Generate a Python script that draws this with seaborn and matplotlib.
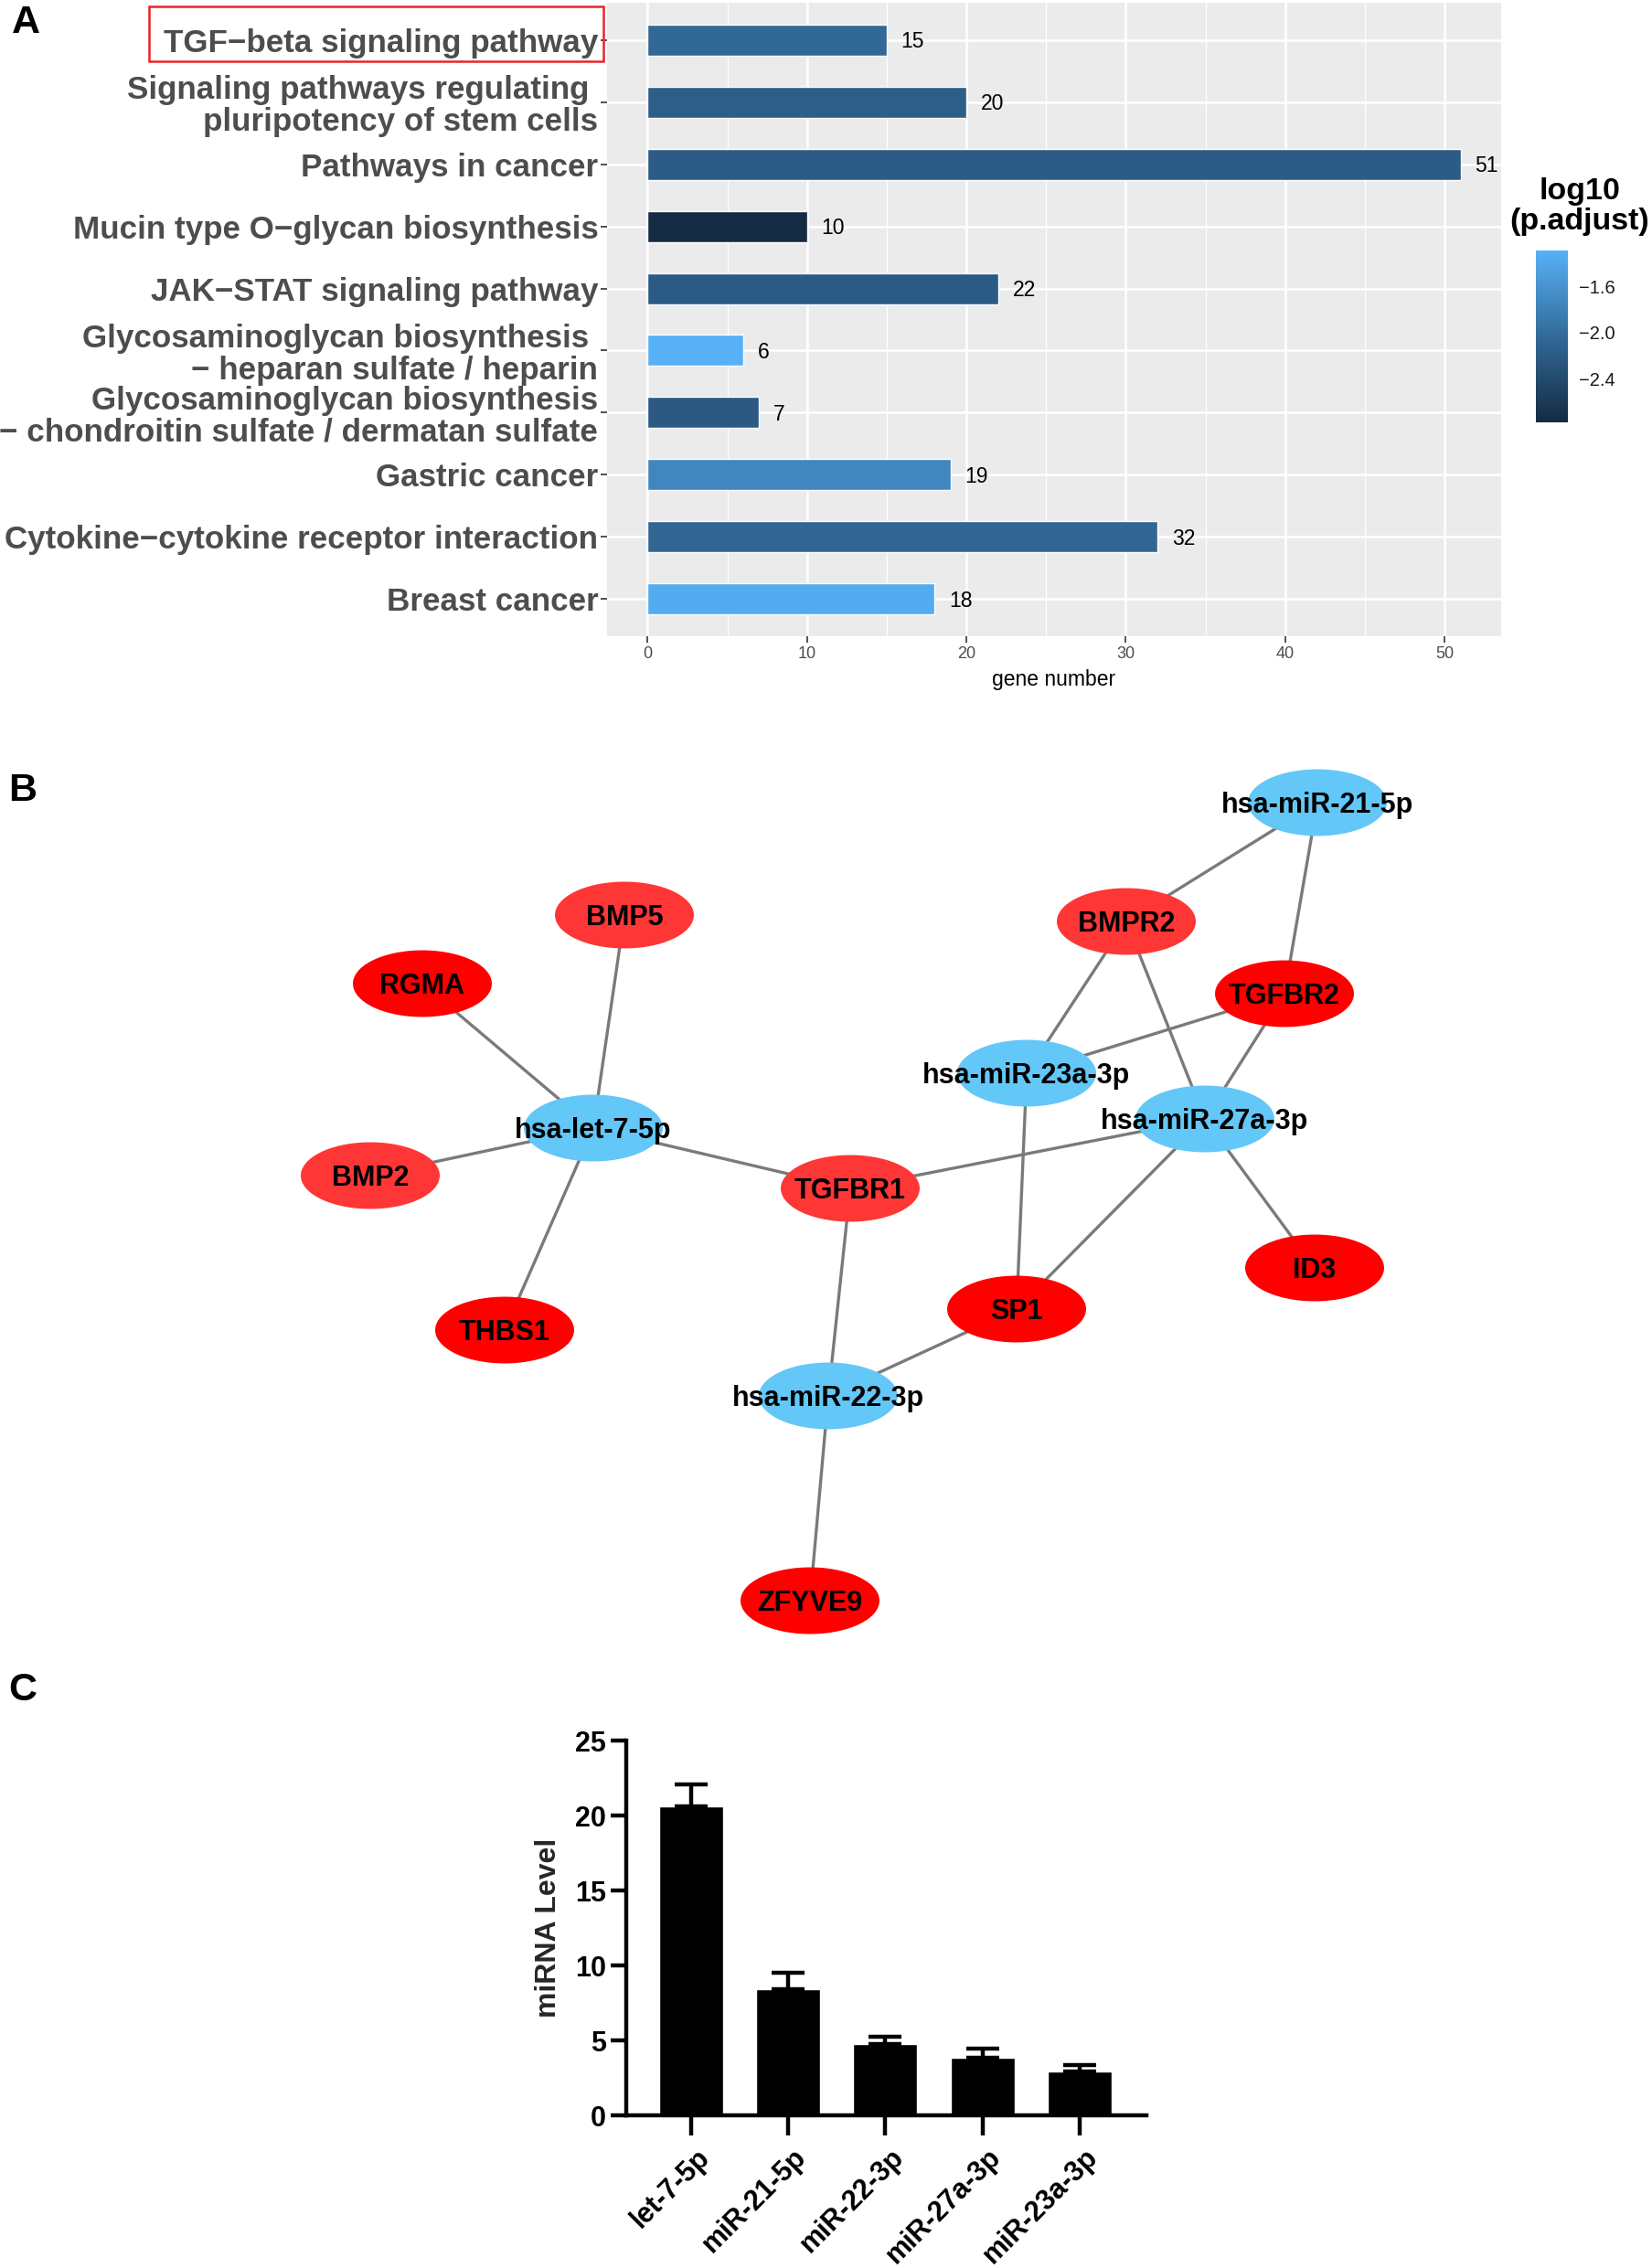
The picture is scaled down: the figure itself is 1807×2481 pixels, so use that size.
import numpy as np
import pandas as pd
import matplotlib
matplotlib.use("Agg")
import matplotlib.pyplot as plt
import matplotlib.cm as cm
import matplotlib.transforms as mtransforms
import seaborn as sns
from matplotlib.colors import LinearSegmentedColormap, Normalize
from matplotlib.patches import Rectangle
from matplotlib.path import Path

# ---------------- Panel A data ----------------
kegg_terms = [
    "TGF\u2212beta signaling pathway",
    "Signaling pathways regulating \npluripotency of stem cells",
    "Pathways in cancer",
    "Mucin type O\u2212glycan biosynthesis",
    "JAK\u2212STAT signaling pathway",
    "Glycosaminoglycan biosynthesis \n\u2212 heparan sulfate / heparin",
    "Glycosaminoglycan biosynthesis\n\u2212 chondroitin sulfate / dermatan sulfate",
    "Gastric cancer",
    "Cytokine\u2212cytokine receptor interaction",
    "Breast cancer",
]
gene_counts = [15, 20, 51, 10, 22, 6, 7, 19, 32, 18]
log10_padj = [-2.06, -2.18, -2.20, -2.78, -2.21, -1.29, -2.23, -1.74, -2.08, -1.35]
x_ticks_a = [0, 10, 20, 30, 40, 50]
x_minor_a = [5, 15, 25, 35, 45]
cbar_ticks = [-2.4, -2.0, -1.6]

# ---------------- Panel B data ----------------
node_names = ["hsa-miR-21-5p", "BMP5", "BMPR2", "RGMA", "TGFBR2", "hsa-miR-23a-3p",
              "hsa-miR-27a-3p", "hsa-let-7-5p", "BMP2", "TGFBR1", "ID3", "SP1",
              "THBS1", "hsa-miR-22-3p", "ZFYVE9"]
node_x = [1441, 683, 1232, 462, 1405, 1123, 1318, 649, 405, 930, 1438, 1112, 552, 906, 886]
node_y = [878, 1001, 1008, 1076, 1087, 1174, 1224, 1234, 1286, 1300, 1387, 1432, 1455, 1527, 1751]
node_kind = ["miRNA", "gene_light", "gene_light", "gene", "gene", "miRNA",
             "miRNA", "miRNA", "gene_light", "gene_light", "gene", "gene",
             "gene", "miRNA", "gene"]
edges = [
    ("hsa-miR-21-5p", "BMPR2"), ("hsa-miR-21-5p", "TGFBR2"),
    ("BMPR2", "hsa-miR-23a-3p"), ("BMPR2", "hsa-miR-27a-3p"),
    ("TGFBR2", "hsa-miR-23a-3p"), ("TGFBR2", "hsa-miR-27a-3p"),
    ("hsa-miR-23a-3p", "SP1"), ("hsa-miR-27a-3p", "TGFBR1"),
    ("hsa-miR-27a-3p", "SP1"), ("hsa-miR-27a-3p", "ID3"),
    ("hsa-let-7-5p", "BMP5"), ("hsa-let-7-5p", "RGMA"),
    ("hsa-let-7-5p", "BMP2"), ("hsa-let-7-5p", "THBS1"),
    ("hsa-let-7-5p", "TGFBR1"), ("TGFBR1", "hsa-miR-22-3p"),
    ("SP1", "hsa-miR-22-3p"), ("hsa-miR-22-3p", "ZFYVE9"),
]

# ---------------- Panel C data ----------------
mirnas_c = ["let-7-5p", "miR-21-5p", "miR-22-3p", "miR-27a-3p", "miR-23a-3p"]
mirna_level = [20.63, 8.43, 4.77, 3.87, 2.92]
mirna_sem = [1.45, 1.11, 0.48, 0.58, 0.42]
y_ticks_c = [0, 5, 10, 15, 20, 25]

# ---------------- figure ----------------
sns.set_theme(style="white")
plt.rcParams["font.family"] = ["Liberation Sans", "DejaVu Sans"]
plt.rcParams["axes.unicode_minus"] = True

W, H = 1807, 2481
fig = plt.figure(figsize=(W / 100, H / 100), dpi=100)
fig.patch.set_facecolor("white")


def fa(x0, y0, x1, y1):
    """pixel box (top-left origin) -> figure fraction rect"""
    return [x0 / W, 1 - y1 / H, (x1 - x0) / W, (y1 - y0) / H]


# ======== Panel A ========
ax_a = fig.add_axes(fa(664, 3, 1642, 696))
df_a = pd.DataFrame({"term": kegg_terms, "count": gene_counts, "logp": log10_padj})
cmap = LinearSegmentedColormap.from_list("gg", ["#132B43", "#336A98", "#56B1F7"])
norm = Normalize(vmin=min(log10_padj), vmax=max(log10_padj))
palette = {t: cmap(norm(v)) for t, v in zip(kegg_terms, log10_padj)}
sns.barplot(data=df_a, x="count", y="term", hue="term", palette=palette,
            width=0.5, saturation=1, legend=False, ax=ax_a, zorder=3)
ax_a.set_facecolor("#EBEBEB")
ax_a.set_xlim(-2.55, 53.55)
ax_a.set_ylim(len(kegg_terms) - 0.4, -0.6)
ax_a.set_xticks(x_ticks_a)
ax_a.set_xticks(x_minor_a, minor=True)
ax_a.set_axisbelow(True)
ax_a.grid(which="major", color="white", lw=1.8)
ax_a.grid(which="minor", axis="x", color="white", lw=0.9)
for s in ax_a.spines.values():
    s.set_visible(False)
ax_a.tick_params(axis="y", length=5, width=1.2, color="#333333", pad=2,
                 labelsize=25.2, labelcolor="#4D4D4D", left=True)
ax_a.tick_params(axis="x", which="major", length=5, width=1.2, color="#333333",
                 pad=3, labelsize=13, labelcolor="#4D4D4D", bottom=True)
ax_a.tick_params(axis="x", which="minor", length=0)
for lab in ax_a.get_yticklabels():
    lab.set_fontweight("bold")
    lab.set_linespacing(1.08)
ax_a.set_ylabel("")
ax_a.set_xlabel("gene number", fontsize=16.5, color="black", labelpad=6)
for i, v in enumerate(gene_counts):
    ax_a.text(v + 0.9, i + 0.03, str(v), ha="left", va="center", fontsize=16.5,
              color="black", zorder=4)

# colorbar
cax = fig.add_axes(fa(1680, 274, 1715, 462))
cb = fig.colorbar(cm.ScalarMappable(norm=norm, cmap=cmap), cax=cax, ticks=cbar_ticks)
cb.outline.set_visible(False)
cax.tick_params(which="both", direction="in", color="white", length=7, width=1,
                left=True, right=True, labelsize=14.5, labelcolor="#1A1A1A", pad=9)
cax.set_yticklabels([f"{t:.1f}".replace("-", "\u2212") for t in cbar_ticks])
fig.text(1728 / W, 1 - 226 / H, "log10\n(p.adjust)", ha="center", va="center",
         fontsize=24.5, fontweight="bold", color="black", linespacing=1.05)

# ======== Panel B ========
ax_b = fig.add_axes(fa(0, 830, W, 1790))
ax_b.set_xlim(0, W)
ax_b.set_ylim(1790, 830)
ax_b.axis("off")
pos = {n: (x, y) for n, x, y in zip(node_names, node_x, node_y)}
for a, b in edges:
    ax_b.plot([pos[a][0], pos[b][0]], [pos[a][1], pos[b][1]], color="#7A7A7A",
              lw=2.4, zorder=1, solid_capstyle="butt")
t = np.linspace(0, 2 * np.pi, 100)
ell = Path(np.column_stack([np.cos(t), 0.48 * np.sin(t)]), closed=True)
df_b = pd.DataFrame({"x": node_x, "y": node_y, "kind": node_kind})
sns.scatterplot(data=df_b, x="x", y="y", hue="kind",
                palette={"miRNA": "#63C7F8", "gene": "#FF0000", "gene_light": "#FF3636"},
                marker=ell, s=(152 * 0.72) ** 2, linewidth=0, legend=False,
                ax=ax_b, zorder=2)
ax_b.set_xlabel("")
ax_b.set_ylabel("")
for n, x, y in zip(node_names, node_x, node_y):
    ax_b.text(x, y + 11, n, ha="center", va="baseline", fontsize=22,
              fontweight="bold", color="black", zorder=3)

# ======== Panel C ========
ax_c = fig.add_axes(fa(685, 1904, 1254, 2314))
sns.barplot(x=mirnas_c, y=mirna_level, color="black", width=0.66, saturation=1,
            errorbar=None, ax=ax_c)
ax_c.errorbar(range(len(mirnas_c)), mirna_level,
              yerr=[np.zeros(len(mirna_sem)), mirna_sem], fmt="none",
              ecolor="black", elinewidth=3.2, capsize=13, capthick=3.2)
ax_c.set_xlim(-0.67, 4.69)
ax_c.set_ylim(0, 25)
ax_c.set_yticks(y_ticks_c)
for side in ["top", "right"]:
    ax_c.spines[side].set_visible(False)
for side in ["left", "bottom"]:
    ax_c.spines[side].set_linewidth(3.2)
    ax_c.spines[side].set_color("black")
ax_c.tick_params(axis="y", width=3.2, length=12, color="black", labelsize=22,
                 labelcolor="black", left=True, pad=4)
ax_c.tick_params(axis="x", width=3.2, length=16, color="black", labelsize=22,
                 labelcolor="black", bottom=True, pad=6)
for lab in ax_c.get_yticklabels():
    lab.set_fontweight("bold")
shift = mtransforms.ScaledTranslation(5 / 100, 0, fig.dpi_scale_trans)
for lab in ax_c.get_xticklabels():
    lab.set_fontweight("bold")
    lab.set_rotation(45)
    lab.set_ha("right")
    lab.set_rotation_mode("anchor")
    lab.set_transform(lab.get_transform() + shift)
ax_c.set_ylabel("miRNA Level", fontsize=23, fontweight="bold", labelpad=10)
ax_c.set_facecolor("white")

# ======== panel letters ========
for letter, (px, py) in zip(["A", "B", "C"], [(28, 25), (25, 865), (25, 1849)]):
    fig.text(px / W, 1 - py / H, letter, ha="center", va="center",
             fontsize=31, fontweight="bold", color="black")

# red box around highlighted term
fig.canvas.draw()
renderer = fig.canvas.get_renderer()
bb = ax_a.get_yticklabels()[0].get_window_extent(renderer)
x0, x1 = bb.x0 - 16, bb.x1 + 6
y0, y1 = bb.y0 - 3, bb.y1 + 24
fig.add_artist(Rectangle((x0 / W, y0 / H), (x1 - x0) / W, (y1 - y0) / H,
                         transform=fig.transFigure, fill=False,
                         edgecolor="#E8242B", lw=1.8, zorder=10))

fig.savefig("out.png", dpi=100, facecolor="white")
